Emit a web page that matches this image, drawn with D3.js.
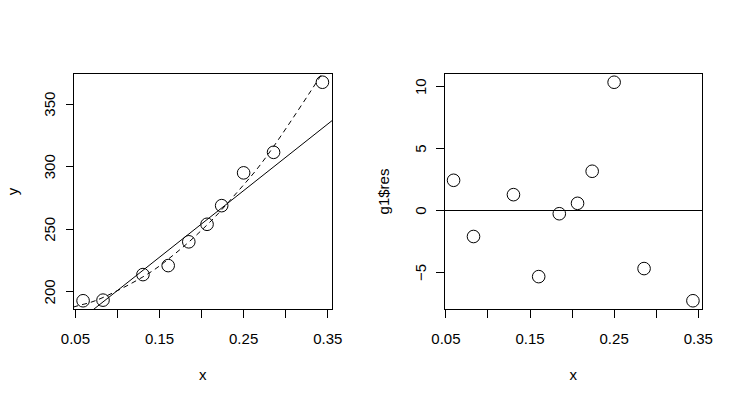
<!DOCTYPE html>
<html><head><meta charset="utf-8">
<script src="https://cdn.jsdelivr.net/npm/d3@7"></script>
<style>
html,body{margin:0;padding:0;background:#fff;}
svg{display:block;font-family:"Liberation Sans",Arial,sans-serif;}
</style></head>
<body>
<script>
// ---- data ----
const xVals   = [0.0597, 0.0834, 0.1309, 0.1609, 0.1854, 0.2071, 0.2245, 0.2506, 0.2862, 0.3443];
const yVals   = [192.5, 193.0, 213.4, 220.6, 239.6, 253.6, 268.5, 294.7, 311.1, 367.1];
const resVals = [2.40, -2.14, 1.24, -5.38, -0.30, 0.54, 3.13, 10.32, -4.73, -7.33];
// dashed fitted curve (g1)
const fitX = [0.0483, 0.0597, 0.0834, 0.1309, 0.1609, 0.1854, 0.2071, 0.2245, 0.2506, 0.2862, 0.3443, 0.3557];
const fitY = [187.5, 189.6, 195.1, 211.6, 225.7, 239.4, 253.1, 265.2, 285.1, 315.7, 374.4, 387.2];
// solid straight line, endpoints read at the plot edges
const lineX = [0.0483, 0.3557];
const lineY = [172.9, 336.4];
// ticks
const xTicks = [0.05, 0.10, 0.15, 0.20, 0.25, 0.30, 0.35];
const xTickLabels = ["0.05", "", "0.15", "", "0.25", "", "0.35"];
const yTicks = [200, 250, 300, 350];
const resTicks = [-5, 0, 5, 10];

const W = 741, H = 401;
const panelW = 370.5;
const mL = 73.5, mR = 38.5, mT = 73.5, plotBottom = 309.5;
const FS = 15;

const svg = d3.select("body").append("svg").attr("width", W).attr("height", H);

function pad(ext){ const r = ext[1]-ext[0]; return [ext[0]-0.04*r, ext[1]+0.04*r]; }

function panel(ox, id, yData, yT, ylab, drawExtras){
  const g = svg.append("g").attr("transform", `translate(${ox},0)`);
  const x = d3.scaleLinear().domain(pad(d3.extent(xVals))).range([mL, panelW - mR]);
  const y = d3.scaleLinear().domain(pad(d3.extent(yData))).range([plotBottom, mT]);
  g.append("clipPath").attr("id", id).append("rect")
    .attr("x", mL).attr("y", mT).attr("width", panelW - mR - mL).attr("height", plotBottom - mT);

  // x axis
  const xa = g.append("g").attr("transform", `translate(0,${plotBottom})`)
    .call(d3.axisBottom(x).tickValues(xTicks).tickSize(8).tickSizeOuter(0).tickFormat((d,i)=>xTickLabels[i]));
  xa.select(".domain").remove();
  xa.selectAll(".tick line").attr("stroke","#000").attr("shape-rendering","crispEdges");
  xa.selectAll(".tick text").attr("y", 34).attr("dy", null).attr("font-size", FS)
    .attr("font-family","Liberation Sans, Arial, sans-serif").attr("fill","#000");

  // y axis
  const ya = g.append("g").attr("transform", `translate(${mL},0)`)
    .call(d3.axisLeft(y).tickValues(yT).tickSize(8).tickSizeOuter(0).tickFormat(d3.format("d")));
  ya.select(".domain").remove();
  ya.selectAll(".tick line").attr("stroke","#000").attr("shape-rendering","crispEdges");
  ya.selectAll(".tick text").attr("x", null).attr("dy", null)
    .attr("transform", "translate(-18.5,0) rotate(-90)")
    .attr("text-anchor","middle").attr("font-size", FS)
    .attr("font-family","Liberation Sans, Arial, sans-serif").attr("fill","#000");

  // box
  g.append("rect").attr("x", mL).attr("y", mT).attr("width", panelW - mR - mL).attr("height", plotBottom - mT)
    .attr("fill","none").attr("stroke","#000").attr("shape-rendering","crispEdges");

  // labels
  g.append("text").attr("x", (mL + panelW - mR)/2).attr("y", 380).attr("text-anchor","middle")
    .attr("font-size", FS).text("x");
  g.append("text").attr("transform", `translate(18,${(mT+plotBottom)/2}) rotate(-90)`)
    .attr("text-anchor","middle").attr("font-size", FS).text(ylab);

  const plot = g.append("g").attr("clip-path", `url(#${id})`);
  drawExtras(plot, x, y);

  g.append("g").selectAll("circle").data(xVals.map((d,i)=>[d, yData[i]])).join("circle")
    .attr("cx", d=>x(d[0])).attr("cy", d=>y(d[1])).attr("r", 6.3)
    .attr("fill","none").attr("stroke","#000").attr("stroke-width",1);
}

panel(0, "clipL", yVals, yTicks, "y", (p, x, y) => {
  p.append("path").datum(lineX.map((d,i)=>[d, lineY[i]]))
    .attr("d", d3.line().x(d=>x(d[0])).y(d=>y(d[1])))
    .attr("fill","none").attr("stroke","#000").attr("stroke-width",1);
  p.append("path").datum(fitX.map((d,i)=>[d, fitY[i]]))
    .attr("d", d3.line().x(d=>x(d[0])).y(d=>y(d[1])).curve(d3.curveNatural))
    .attr("fill","none").attr("stroke","#000").attr("stroke-width",1).attr("stroke-dasharray","5,4");
});

panel(panelW, "clipR", resVals, resTicks, "g1$res", (p, x, y) => {
  p.append("line").attr("x1", mL).attr("x2", panelW - mR)
    .attr("y1", Math.round(y(0)) + 0.5).attr("y2", Math.round(y(0)) + 0.5)
    .attr("stroke","#000").attr("stroke-width",1);
});
</script>
</body></html>
